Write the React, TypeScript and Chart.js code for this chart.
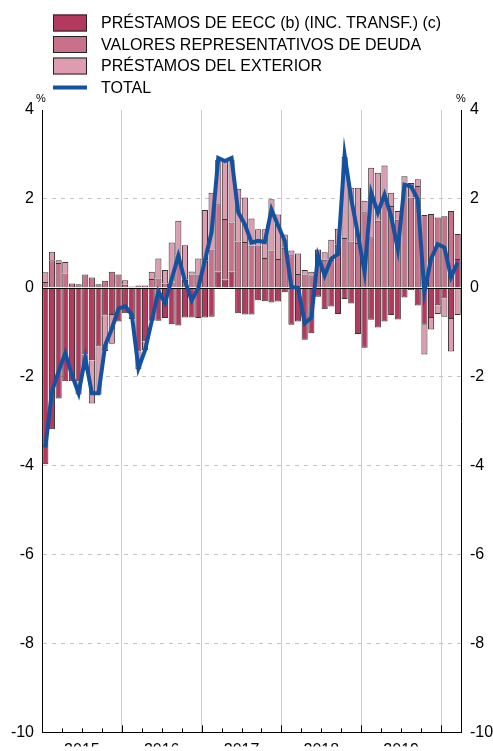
import React, { useEffect, useRef } from 'react';
import { Chart, registerables } from 'chart.js';

Chart.register(...registerables);

const FONT = '"Liberation Sans", Arial, Helvetica, sans-serif';

const MONTHS = [
  '2015-01', '2015-02', '2015-03', '2015-04', '2015-05', '2015-06', '2015-07', '2015-08', '2015-09', '2015-10', '2015-11', '2015-12',
  '2016-01', '2016-02', '2016-03', '2016-04', '2016-05', '2016-06', '2016-07', '2016-08', '2016-09', '2016-10', '2016-11', '2016-12',
  '2017-01', '2017-02', '2017-03', '2017-04', '2017-05', '2017-06', '2017-07', '2017-08', '2017-09', '2017-10', '2017-11', '2017-12',
  '2018-01', '2018-02', '2018-03', '2018-04', '2018-05', '2018-06', '2018-07', '2018-08', '2018-09', '2018-10', '2018-11', '2018-12',
  '2019-01', '2019-02', '2019-03', '2019-04', '2019-05', '2019-06', '2019-07', '2019-08', '2019-09', '2019-10', '2019-11', '2019-12',
  '2020-01', '2020-02', '2020-03',
];

const EECC = [
  -3.97, -3.18, -2.49, -2.10, -2.10, -2.10, -1.50, -1.63, -1.32, -0.62, -0.61, -0.76,
  -0.57, -0.70, -1.43, -1.20, -0.74, -0.74, -0.68, -0.82, -0.85, -0.67, -0.67, -0.68,
  -0.67, -0.65, 0.37, 0.19, 0.37, -0.57, -0.60, -0.60, -0.28, -0.30, -0.33, -0.31,
  -0.10, -0.83, -0.76, -1.17, -1.02, -0.20, -0.48, -0.42, -0.59, -0.25, -0.35, -1.04,
  -1.35, -0.72, -0.89, -0.76, -0.61, -0.71, -0.22, -0.05, -0.40, -0.83, -0.68, -0.39,
  -0.24, -0.70, 0.65,
];

const VALORES = [
  0.13, 0.62, 0.56, 0.32, 0.10, 0.08, 0.30, 0.23, 0.08, 0.16, 0.36, 0.30,
  0.07, 0.03, 0.05, 0.05, 0.20, 0.21, 0.10, 0.12, 0.73, 0.19, 0.30, 0.30,
  0.62, 0.86, 1.51, 1.36, 1.10, 1.04, 1.03, 0.95, 0.95, 0.67, 0.84, 0.65,
  0.90, 0.73, 0.31, 0.30, 0.26, 0.86, 0.63, 0.63, 0.97, 1.12, 1.04, 1.01,
  1.70, 1.14, 1.51, 1.95, 1.84, 1.53, 2.31, 2.03, 2.29, 1.64, 1.66, 1.58,
  1.61, 1.73, 0.56,
];

const EXTERIOR = [
  0.22, 0.19, 0.06, 0.26, 0, -0.30, -0.35, -0.97, -1.08, -0.80, -0.65, 0,
  0.10, 0, -0.40, -0.20, 0.16, 0.45, 0.30, 0.90, 0.78, 0.77, 0.07, 0.36,
  1.13, 1.28, 1.00, 1.30, 1.41, 1.19, 1.00, 0.61, 0.37, 0.65, 1.15, 1.00,
  0.30, 0.11, 0.46, 0.10, 0.10, 0, 0.17, 0.45, 0.36, 1.82, 1.21, 1.24,
  0.26, 1.56, 1.08, 0.80, 0.30, 0.20, 0.20, 0.33, 0.15, -0.67, -0.26, -0.20,
  -0.41, -0.73, -0.61,
];

const TOTAL = [
  -3.59, -2.33, -1.88, -1.47, -1.96, -2.37, -1.58, -2.37, -2.37, -1.29, -0.92, -0.47,
  -0.41, -0.60, -1.81, -1.40, -0.75, -0.08, -0.34, 0.20, 0.72, 0.15, -0.28, 0.00,
  0.62, 1.25, 2.92, 2.85, 2.92, 1.70, 1.43, 1.02, 1.06, 1.03, 1.76, 1.40,
  1.06, 0.02, 0.00, -0.80, -0.67, 0.72, 0.28, 0.66, 0.76, 2.99, 2.00, 1.20,
  0.35, 2.14, 1.69, 2.10, 1.61, 0.87, 2.32, 2.28, 1.99, -0.10, 0.65, 0.98,
  0.91, 0.24, 0.57,
];

const YEARS = ['2015', '2016', '2017', '2018', '2019'];
const YEAR_LABEL_POS = [6, 18, 30, 42, 54];
const YEAR_BOUNDARIES = [12, 24, 36, 48, 60];
const QUARTER_MARKS = [3, 6, 9, 12, 15, 18, 21, 24, 27, 30, 33, 36, 39, 42, 45, 48, 51, 54, 57, 60];
const Y_DASHED = [-8, -6, -4, -2, 2];

const LABELS = [
  'PRÉSTAMOS DE EECC (b) (INC. TRANSF.) (c)',
  'VALORES REPRESENTATIVOS DE DEUDA',
  'PRÉSTAMOS DEL EXTERIOR',
  'TOTAL',
];

const C_DARK = '#b4395e';
const C_MED = '#c9718a';
const C_LIGHT = '#dd9cb0';
const C_BLUE = '#1452a0';
const C_BORDER = '#3c3434';

const decorPlugin = {
  id: 'decor',
  beforeDatasetDraw(chart: any, args: any) {
    if (args.index !== 3) return;
    const { ctx, chartArea } = chart;
    const y = Math.round(chart.scales.y.getPixelForValue(0)) + 0.5;
    ctx.save();
    ctx.strokeStyle = '#000';
    ctx.lineWidth = 1;
    ctx.beginPath();
    ctx.moveTo(chartArea.left, y);
    ctx.lineTo(chartArea.right, y);
    ctx.stroke();
    ctx.restore();
  },
  afterDraw(chart: any) {
    const { ctx, chartArea } = chart;
    const x2 = chart.scales.x2;
    ctx.save();
    ctx.strokeStyle = '#000';
    ctx.lineWidth = 1;
    ctx.beginPath();
    QUARTER_MARKS.forEach((v) => {
      const x = Math.round(x2.getPixelForValue(v)) + 0.5;
      const len = v % 12 === 0 ? 7 : 4;
      ctx.moveTo(x, chartArea.bottom);
      ctx.lineTo(x, chartArea.bottom - len);
    });
    ctx.stroke();
    ctx.fillStyle = '#000';
    ctx.font = `11px ${FONT}`;
    ctx.textAlign = 'center';
    ctx.textBaseline = 'middle';
    ctx.fillText('%', chartArea.left - 1, 99);
    ctx.fillText('%', chartArea.right, 99);
    const rows = [23, 44.5, 66, 87.5];
    const ds = chart.data.datasets;
    ctx.font = `16px ${FONT}`;
    ctx.textAlign = 'left';
    ds.forEach((d: any, i: number) => {
      const cy = rows[i];
      if (d.type === 'line') {
        ctx.strokeStyle = d.borderColor;
        ctx.lineWidth = 4;
        ctx.beginPath();
        ctx.moveTo(53, cy);
        ctx.lineTo(87, cy);
        ctx.stroke();
      } else {
        ctx.fillStyle = d.backgroundColor;
        ctx.fillRect(53, cy - 8.5, 34, 17);
        ctx.strokeStyle = '#222';
        ctx.lineWidth = 1;
        ctx.strokeRect(53.5, cy - 8, 33, 16);
      }
      ctx.fillStyle = '#000';
      ctx.fillText(d.label, 101, cy + 1);
    });
    ctx.restore();
  },
};

export default function App() {
  const ref = useRef<HTMLCanvasElement>(null);

  useEffect(() => {
    if (!ref.current) return;
    const transparent = 'rgba(0,0,0,0)';
    const barBase = {
      type: 'bar' as const,
      borderColor: C_BORDER,
      borderWidth: (c: any) => (c.raw === 0 ? 0 : 1),
      borderSkipped: 'start',
      barPercentage: 0.92,
      categoryPercentage: 1,
      xAxisID: 'x',
      yAxisID: 'y',
      order: 1,
    };
    const chart = new Chart(ref.current, {
      type: 'bar',
      data: {
        labels: MONTHS,
        datasets: [
          { ...barBase, label: LABELS[0], data: EECC, backgroundColor: C_DARK },
          { ...barBase, label: LABELS[1], data: VALORES, backgroundColor: C_MED },
          { ...barBase, label: LABELS[2], data: EXTERIOR, backgroundColor: C_LIGHT },
          {
            type: 'line',
            label: LABELS[3],
            data: TOTAL,
            borderColor: C_BLUE,
            backgroundColor: C_BLUE,
            borderWidth: 4,
            pointRadius: 0,
            tension: 0,
            borderJoinStyle: 'miter',
            xAxisID: 'x',
            yAxisID: 'y2',
            order: 0,
          } as any,
        ],
      },
      options: {
        responsive: false,
        animation: false,
        layout: { padding: { top: 110, left: 0, right: 0, bottom: 0 } },
        plugins: { legend: { display: false }, tooltip: { enabled: false } },
        scales: {
          x: {
            type: 'category',
            display: false,
            stacked: true,
            offset: true,
          },
          x2: {
            type: 'linear',
            position: 'bottom',
            min: 0,
            max: 63,
            offset: false,
            afterBuildTicks: (s: any) => {
              s.ticks = [...YEAR_LABEL_POS, ...YEAR_BOUNDARIES]
                .sort((a, b) => a - b)
                .map((v) => ({ value: v }));
            },
            afterFit: (s: any) => {
              s.height = 14;
            },
            grid: {
              offset: false,
              color: (c: any) => (YEAR_BOUNDARIES.includes(c.tick?.value) ? '#cfcfcf' : transparent),
              lineWidth: 1,
              drawTicks: false,
            },
            border: { display: true, color: '#000', width: 1 },
            ticks: {
              autoSkip: false,
              maxRotation: 0,
              minRotation: 0,
              padding: 9,
              color: '#000',
              font: { family: FONT, size: 16 },
              callback: (v: any) => {
                const idx = YEAR_LABEL_POS.indexOf(Number(v));
                return idx >= 0 ? YEARS[idx] : '';
              },
            },
          },
          y: {
            type: 'linear',
            position: 'left',
            stacked: true,
            min: -10,
            max: 4,
            afterFit: (s: any) => {
              s.width = 42;
            },
            grid: {
              color: (c: any) => (Y_DASHED.includes(c.tick?.value) ? '#c4c4c4' : transparent),
              lineWidth: 1,
              drawTicks: false,
            },
            border: { display: true, color: '#000', width: 1, dash: [4, 5] },
            ticks: {
              stepSize: 2,
              padding: 8,
              color: '#000',
              font: { family: FONT, size: 16 },
            },
          },
          y2: {
            type: 'linear',
            position: 'right',
            min: -10,
            max: 4,
            afterFit: (s: any) => {
              s.width = 32;
            },
            grid: { display: false, drawTicks: false },
            border: { display: true, color: '#000', width: 1 },
            ticks: {
              stepSize: 2,
              padding: 9,
              color: '#000',
              font: { family: FONT, size: 16 },
            },
          },
        },
      } as any,
      plugins: [decorPlugin],
    });
    return () => chart.destroy();
  }, []);

  return (
    <div style={{ position: 'fixed', left: 0, top: 0, width: 493, height: 751, background: '#fff' }}>
      <canvas ref={ref} width={493} height={751} style={{ display: 'block', width: 493, height: 751 }} />
    </div>
  );
}
